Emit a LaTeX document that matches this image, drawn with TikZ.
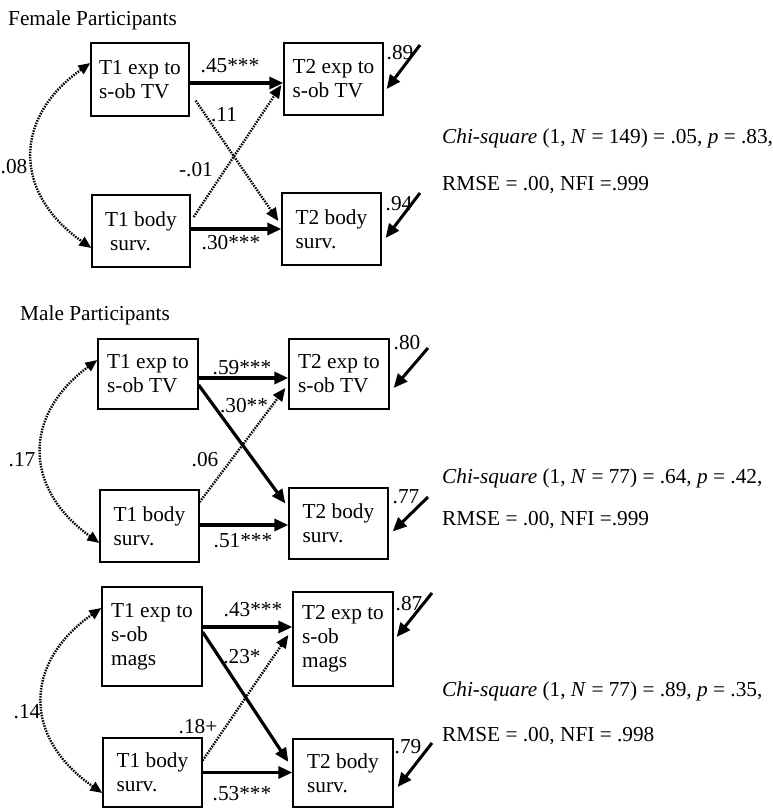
\documentclass[tikz,border=0pt]{standalone}
\usepackage{fontspec}
\setmainfont{Liberation Serif}
\usetikzlibrary{arrows.meta}
\begin{document}
\begin{tikzpicture}[x=1pt,y=-1pt,
  every node/.style={font=\fontsize{21.3}{24}\selectfont, inner sep=0pt},
  box/.style={draw, line width=1.3pt, align=left},
  solidarr/.style={line width=3.2pt, -{Triangle[length=14pt,width=12pt]}},
  dotarr/.style={line width=2.4pt, dash pattern=on 1.5pt off 1.2pt, -{Triangle[length=13pt,width=11pt]}},
  corr/.style={line width=2.4pt, dash pattern=on 1.5pt off 1.2pt, {Triangle[length=12pt,width=10pt]}-{Triangle[length=12pt,width=10pt]}},
  errarr/.style={line width=3pt, -{Triangle[length=14pt,width=12pt]}},
  lbl/.style={anchor=center},
  hdr/.style={anchor=base west},
]
\useasboundingbox (0,0) rectangle (772,809);

% ---------------- Panel 1 ----------------
\node[hdr] (h1) at (8,25) {Female Participants};
\node[box, minimum width=98pt, minimum height=73pt] (A1) at (140,79.5) {T1 exp to\\s-ob TV};
\node[box, minimum width=99pt, minimum height=72pt] (B1) at (333.5,79) {T2 exp to\\s-ob TV};
\node[box, minimum width=98pt, minimum height=72pt] (C1) at (141,231) {T1 body\\\hspace*{5pt}surv.};
\node[box, minimum width=99pt, minimum height=72pt] (D1) at (331.5,229) {T2 body\\surv.};

\draw[solidarr] ([yshift=-3.5pt]A1.east) -- ([yshift=-3.5pt]A1.east -| B1.west);
\draw[solidarr] ([yshift=2pt]C1.east) -- ([yshift=2pt]C1.east -| D1.west);
\draw[dotarr] ([xshift=6pt,yshift=16pt]A1.south east) -- ([xshift=-3pt,yshift=8pt]D1.west);
\draw[dotarr] ([xshift=3pt,yshift=14pt]C1.east) -- ([xshift=-2pt,yshift=-6pt]B1.west);
\draw[corr] ([yshift=16.5pt]A1.west) .. controls (13,118) and (13,193) .. ([yshift=-17pt]C1.west);

\coordinate (eB1) at (420,45);
\coordinate (eD1) at (420,193);
\draw[errarr] (eB1) -- ([xshift=3pt,yshift=-10pt]B1.east);
\draw[errarr] (eD1) -- ([xshift=4pt,yshift=-9pt]D1.east);

\node[lbl] (l45) at (230,66) {.45***};
\node[lbl] (l11) at (224,115) {.11};
\node[lbl] (l01) at (196,170) {-.01};
\node[lbl] (l30) at (231,243) {.30***};
\node[lbl] (l08) at (14,167) {.08};
\node[lbl] (l89) at (400,53) {.89};
\node[lbl] (l94) at (399,204) {.94};

\node[hdr] (chi1) at (442,143) {\textit{Chi-square} (1, \textit{N} = 149) = .05, \textit{p} = .83,};
\node[hdr] (fit1) at (442,190) {RMSE = .00, NFI =.999};

% ---------------- Panel 2 ----------------
\node[hdr] (h2) at (20,320) {Male Participants};
\node[box, minimum width=100pt, minimum height=70pt] (A2) at (148,374) {T1 exp to\\s-ob TV};
\node[box, minimum width=100pt, minimum height=70pt] (B2) at (339,374) {T2 exp to\\s-ob TV};
\node[box, minimum width=99pt, minimum height=72pt] (C2) at (149.5,526) {T1 body\\surv.};
\node[box, minimum width=99pt, minimum height=71pt] (D2) at (338.5,523.5) {T2 body\\surv.};

\draw[solidarr] ([yshift=-4pt]A2.east) -- ([yshift=-4pt]A2.east -| B2.west);
\draw[solidarr] ([yshift=-11pt]A2.east) -- ([xshift=-3pt,yshift=20pt]D2.west);
\draw[dotarr] ([yshift=24pt]C2.east) -- ([xshift=-3pt,yshift=-14pt]B2.west);
\draw[solidarr] ([yshift=1pt]C2.east) -- ([yshift=1pt]C2.east -| D2.west);
\draw[corr] ([yshift=14pt]A2.west) .. controls (23,415) and (23,488) .. ([yshift=-17pt]C2.west);

\coordinate (eB2) at (428,348);
\coordinate (eD2) at (428,497);
\draw[errarr] (eB2) -- ([xshift=4pt,yshift=-14pt]B2.east);
\draw[errarr] (eD2) -- ([xshift=4pt,yshift=-8pt]D2.east);

\node[lbl] (l59) at (242,368) {.59***};
\node[lbl] (l30b) at (244,406) {.30**};
\node[lbl] (l06) at (205,460) {.06};
\node[lbl] (l17) at (22,460) {.17};
\node[lbl] (l51) at (243,541) {.51***};
\node[lbl] (l80) at (407,343) {.80};
\node[lbl] (l77) at (406,497) {.77};

\node[hdr] (chi2) at (442,483) {\textit{Chi-square} (1, \textit{N} = 77) = .64, \textit{p} = .42,};
\node[hdr] (fit2) at (442,525) {RMSE = .00, NFI =.999};

% ---------------- Panel 3 ----------------
\node[box, minimum width=100pt, minimum height=99pt] (A3) at (152,636.5) {T1 exp to\\s-ob\\mags};
\node[box, minimum width=100pt, minimum height=94pt] (B3) at (343,639) {T2 exp to\\s-ob\\mags};
\node[box, minimum width=99pt, minimum height=69pt] (C3) at (152.5,772.5) {T1 body\\surv.};
\node[box, minimum width=100pt, minimum height=68pt] (D3) at (343,773) {T2 body\\surv.};

\draw[solidarr] ([yshift=9.5pt]A3.east) -- ([yshift=9.5pt]A3.east -| B3.west);
\draw[solidarr] ([yshift=4.5pt]A3.east) -- ([xshift=-4pt,yshift=11pt]D3.west);
\draw[dotarr] ([yshift=12pt]C3.east) -- ([xshift=-4pt,yshift=4pt]B3.west);
\draw[solidarr] (C3.east) -- (C3.east -| D3.west);
\draw[corr] ([yshift=28.5pt]A3.west) .. controls (23,663) and (23,738) .. ([yshift=-20.5pt]C3.west);

\coordinate (eB3) at (432,593);
\coordinate (eD3) at (432,743);
\draw[errarr] (eB3) -- ([xshift=3pt,yshift=2pt]B3.east);
\draw[errarr] (eD3) -- ([xshift=4pt,yshift=-14pt]D3.east);

\node[lbl] (l43) at (253,610) {.43***};
\node[lbl] (l23) at (242,657) {.23*};
\node[lbl] (l18) at (198,727) {.18+};
\node[lbl] (l14) at (27,712) {.14};
\node[lbl] (l53) at (242,794) {.53***};
\node[lbl] (l87) at (409,604) {.87};
\node[lbl] (l79) at (408,747) {.79};

\node[hdr] (chi3) at (442,696) {\textit{Chi-square} (1, \textit{N} = 77) = .89, \textit{p} = .35,};
\node[hdr] (fit3) at (442,741) {RMSE = .00, NFI = .998};
\end{tikzpicture}
\end{document}
